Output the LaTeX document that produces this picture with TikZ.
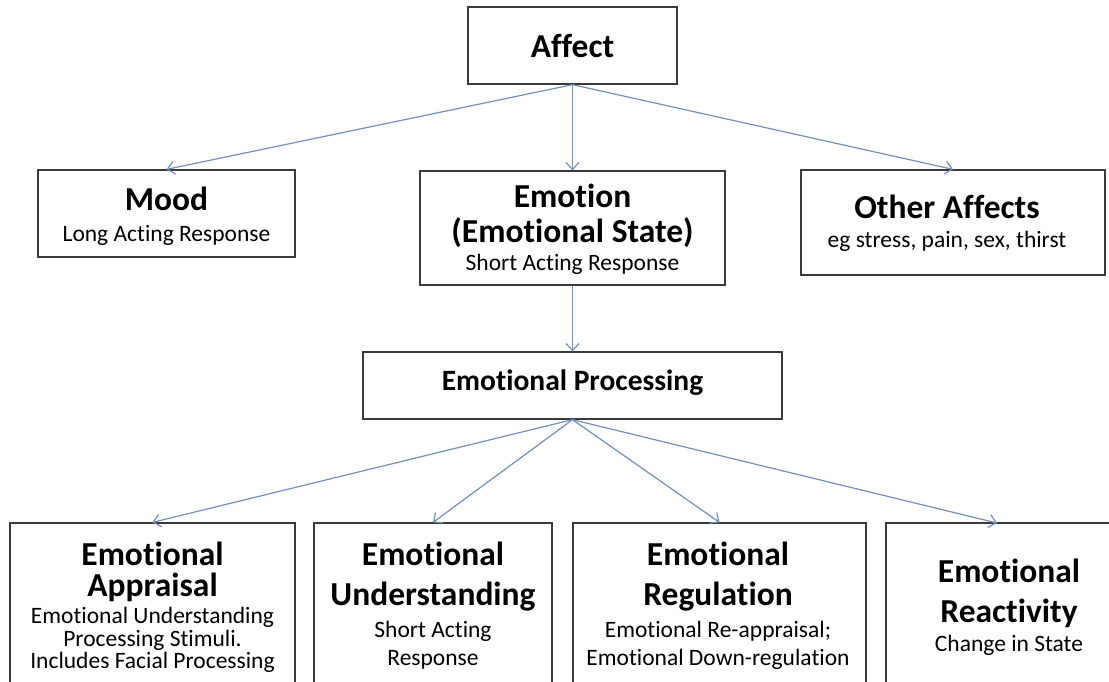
\documentclass[tikz,border=0pt]{standalone}
\usepackage{fontspec}
\setmainfont{Carlito}[Ligatures={NoCommon}]
\usetikzlibrary{arrows.meta}
\definecolor{boxline}{HTML}{3A3A3A}
\definecolor{arrowblue}{HTML}{7090C0}
\tikzset{
  box/.style={draw=boxline, line width=1.3pt, rectangle, inner sep=0pt},
  ttl/.style={font=\bfseries\fontsize{33.5}{38}\selectfont, anchor=base, inner sep=0pt},
  sub/.style={font=\fontsize{23.5}{27}\selectfont, anchor=base, inner sep=0pt},
  eptl/.style={font=\bfseries\fontsize{29.5}{33}\selectfont, anchor=base, inner sep=0pt},
  link/.style={draw=arrowblue, line width=1.2pt, -{Straight Barb[length=7pt,width=13pt,line width=1.2pt]}}
}
\begin{document}
\begin{tikzpicture}[x=1pt,y=-1pt]
\useasboundingbox (0,0) rectangle (1109,681);
\clip (0,0) rectangle (1109,681);
% boxes
\node[box, minimum width=209pt, minimum height=77pt] (affect) at (572.5,45.5) {};
\node[box, minimum width=257pt, minimum height=87pt] (mood) at (166.5,213.5) {};
\node[box, minimum width=305pt, minimum height=114pt] (emotion) at (572.5,228) {};
\node[box, minimum width=304pt, minimum height=105pt] (other) at (953,222.5) {};
\node[box, minimum width=419pt, minimum height=67pt] (ep) at (572.5,385.5) {};
\node[box, minimum width=285pt, minimum height=200pt] (b1) at (152.5,623) {};
\node[box, minimum width=238pt, minimum height=200pt] (b2) at (433,623) {};
\node[box, minimum width=293pt, minimum height=200pt] (b3) at (719.5,623) {};
\node[box, minimum width=247pt, minimum height=200pt] (b4) at (1009.5,623) {};
\coordinate (b4in) at (997,523);
% texts
\node[ttl] (affectT) at (572.5,57) {Affect};
\node[ttl] (moodT) at (166.5,210) {Mood};
\node[sub] (moodS) at (166.5,241) {Long Acting Response};
\node[ttl] (emoT1) at (572.5,207) {Emotion};
\node[ttl] (emoT2) at (572.5,242) {(Emotional State)};
\node[sub] (emoS) at (572.5,270) {Short Acting Response};
\node[ttl] (otherT) at (947,218) {Other Affects};
\node[sub] (otherS) at (947,247) {eg stress, pain, sex, thirst};
\node[eptl] (epT) at (572.5,390) {Emotional Processing};
\node[ttl] (b1T1) at (152.5,565) {Emotional};
\node[ttl] (b1T2) at (152.5,596) {Appraisal};
\node[sub] (b1S1) at (152.5,623) {Emotional Understanding};
\node[sub] (b1S2) at (152.5,646) {Processing Stimuli.};
\node[sub] (b1S3) at (152.5,668) {Includes Facial Processing};
\node[ttl] (b2T1) at (433,565) {Emotional};
\node[ttl] (b2T2) at (433,605) {Understanding};
\node[sub] (b2S1) at (433,637) {Short Acting};
\node[sub] (b2S2) at (433,665) {Response};
\node[ttl] (b3T1) at (718,565) {Emotional};
\node[ttl] (b3T2) at (718,605) {Regulation};
\node[sub] (b3S1) at (718,637) {Emotional Re-appraisal;};
\node[sub] (b3S2) at (718,665) {Emotional Down-regulation};
\node[ttl] (b4T1) at (1009,582) {Emotional};
\node[ttl] (b4T2) at (1009,622) {Reactivity};
\node[sub] (b4S) at (1009,651) {Change in State};
% connectors
\draw[link] (affect.south) -- (mood.north);
\draw[link] (affect.south) -- (emotion.north);
\draw[link] (affect.south) -- (other.north);
\draw[link] (emotion.south) -- (ep.north);
\draw[link] (ep.south) -- (b1.north);
\draw[link] (ep.south) -- (b2.north);
\draw[link] (ep.south) -- (b3.north);
\draw[link] (ep.south) -- (b4in);
\end{tikzpicture}
\end{document}
